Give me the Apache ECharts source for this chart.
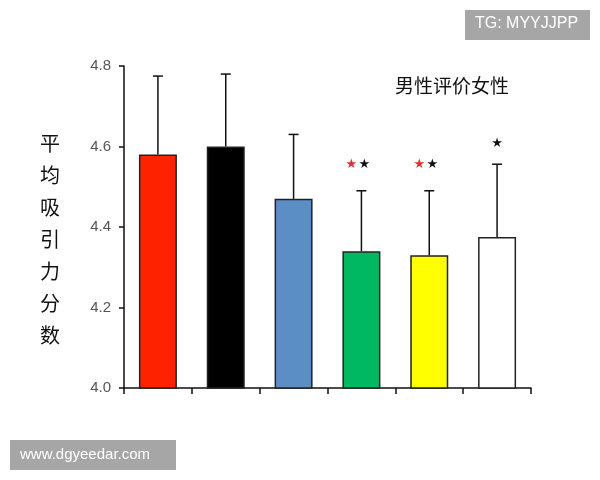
<!DOCTYPE html>
<html>
<head>
<meta charset="utf-8">
<script src="https://cdn.jsdelivr.net/npm/echarts@6/dist/echarts.min.js"></script>
<style>
  html, body { margin: 0; padding: 0; background: #fff; }
  #main { width: 600px; height: 480px; }
</style>
</head>
<body>
<div id="main"></div>
<script>
// 六组：均值和误差上端
const groups = ['1', '2', '3', '4', '5', '6'];
const means = [4.58, 4.60, 4.47, 4.34, 4.33, 4.375];
const errTops = [4.775, 4.78, 4.63, 4.49, 4.49, 4.556];
const barColors = ['#ff2200', '#000000', '#5b8ec4', '#00b862', '#ffff00', '#ffffff'];
// 显著性星号位置（null 表示没有）
const redStars = [null, null, null, 4.555, 4.555, null];
const blackStars = [null, null, null, 4.555, 4.555, 4.607];
const yTicks = [4.0, 4.2, 4.4, 4.6, 4.8];

const chart = echarts.init(document.getElementById('main'));

let errData = means.map(function (m, i) { return [i, m, errTops[i]]; });
let starData = groups.map(function (g, i) { return [i, redStars[i], blackStars[i]]; });

let option = {
    backgroundColor: '#fff',
    animation: false,
    grid: { left: 124, right: 69, top: 66, bottom: 92 },
    xAxis: {
        type: 'category',
        data: groups,
        axisLine: { lineStyle: { color: '#111', width: 1.5 } },
        axisTick: { show: true, length: 6, lineStyle: { color: '#111', width: 1.5 } },
        axisLabel: { show: false },
        splitLine: { show: false }
    },
    yAxis: {
        type: 'value',
        min: yTicks[0],
        max: yTicks[yTicks.length - 1],
        interval: 0.2,
        axisLine: { show: true, lineStyle: { color: '#111', width: 1.5 } },
        axisTick: { show: true, length: 5, lineStyle: { color: '#111', width: 1.5 } },
        axisLabel: {
            color: '#555',
            fontSize: 15,
            fontFamily: 'Liberation Sans',
            margin: 13,
            formatter: function (v) { return v.toFixed(1); }
        },
        splitLine: { show: false }
    },
    graphic: [
        {
            type: 'text', left: 40, top: 127,
            style: {
                text: '平\n均\n吸\n引\n力\n分\n数',
                font: '20px "Noto Sans CJK SC"',
                lineHeight: 32, fill: '#111'
            }
        },
        {
            type: 'text', left: 395, top: 76,
            style: { text: '男性评价女性', font: '19px "Noto Sans CJK SC"', fill: '#111' }
        },
        {
            type: 'group', left: 465, top: 10,
            children: [
                { type: 'rect', shape: { x: 0, y: 0, width: 125, height: 30 }, style: { fill: '#a6a6a6' } },
                { type: 'text', left: 10, top: 6, style: { text: 'TG: MYYJJPP', font: '16px "Liberation Sans"', fill: '#fff' } }
            ]
        },
        {
            type: 'group', left: 10, top: 440,
            children: [
                { type: 'rect', shape: { x: 0, y: 0, width: 166, height: 30 }, style: { fill: '#a6a6a6' } },
                { type: 'text', left: 10, top: 7, style: { text: 'www.dgyeedar.com', font: '15px "Liberation Sans"', fill: '#fff' } }
            ]
        }
    ],
    series: [
        {
            type: 'bar',
            barWidth: '56%',
            data: means.map(function (v, i) {
                return {
                    value: v,
                    itemStyle: { color: barColors[i], borderColor: '#222', borderWidth: 1.5 }
                };
            }),
            z: 2
        },
        {
            type: 'custom',
            z: 3,
            renderItem: function (params, api) {
                let top = api.coord([api.value(0), api.value(2)]);
                let base = api.coord([api.value(0), api.value(1)]);
                let cap = 5;
                return {
                    type: 'group',
                    children: [
                        { type: 'line', shape: { x1: base[0], y1: base[1], x2: top[0], y2: top[1] }, style: { stroke: '#111', lineWidth: 1.5 } },
                        { type: 'line', shape: { x1: top[0] - cap, y1: top[1], x2: top[0] + cap, y2: top[1] }, style: { stroke: '#111', lineWidth: 1.5 } }
                    ]
                };
            },
            data: errData
        },
        {
            type: 'custom',
            z: 4,
            renderItem: function (params, api) {
                let kids = [];
                let red = api.value(1), black = api.value(2);
                let pair = !isNaN(red) && red !== null && red !== '-';
                if (pair) {
                    let p = api.coord([api.value(0), red]);
                    kids.push({ type: 'text', x: p[0] - 10, y: p[1], style: { text: '★', font: '13px "DejaVu Sans"', fill: '#e03030', align: 'center', verticalAlign: 'middle' } });
                }
                if (!isNaN(black) && black !== null && black !== '-') {
                    let q = api.coord([api.value(0), black]);
                    kids.push({ type: 'text', x: q[0] + (pair ? 3 : 0), y: q[1], style: { text: '★', font: '13px "DejaVu Sans"', fill: '#111', align: 'center', verticalAlign: 'middle' } });
                }
                return { type: 'group', children: kids };
            },
            data: starData
        }
    ]
};

chart.setOption(option);
</script>
</body>
</html>
